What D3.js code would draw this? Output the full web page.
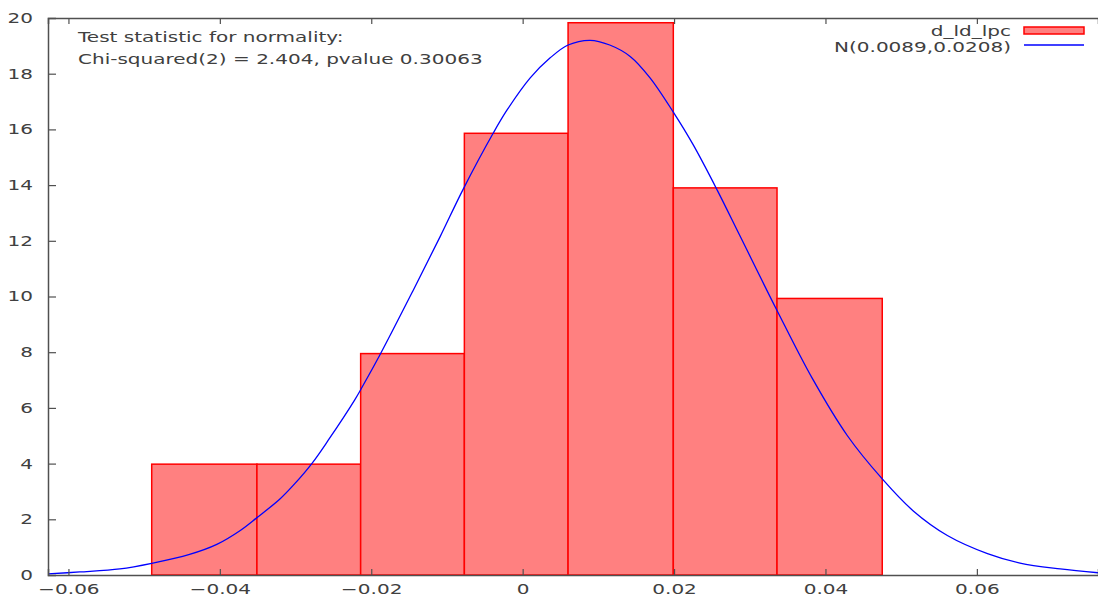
<!DOCTYPE html>
<html>
<head>
<meta charset="utf-8">
<script src="https://cdn.jsdelivr.net/npm/d3@7"></script>
<style>
  body { margin: 0; background: #fff; }
  text { font-family: "DejaVu Sans", sans-serif; fill: #404040; }
</style>
</head>
<body>
<div id="chart"></div>
<script>
// histogram bins (edges) and bar heights
const binEdges = [-0.0490, -0.0351, -0.0214, -0.0077, 0.0060, 0.0199, 0.0336, 0.0475];
const barValues = [3.98, 3.98, 7.95, 15.86, 19.83, 13.90, 9.93];

// normal curve
const curveX = [-0.0627, -0.0585, -0.0532, -0.0490, -0.0440, -0.0404, -0.0373, -0.0351, -0.0321,
  -0.0301, -0.0278, -0.0257, -0.0222, -0.0212, -0.0189, -0.0145, -0.0109, -0.0079, -0.0039,
  -0.0021, 0.0010, 0.0036, 0.0060, 0.0089, 0.0115, 0.0142, 0.0168, 0.0199, 0.0225, 0.0257,
  0.0287, 0.0336, 0.0383, 0.0429, 0.0475, 0.0516, 0.0561, 0.0614, 0.0657, 0.0710, 0.0760];
const curveY = [0.04, 0.11, 0.22, 0.42, 0.74, 1.1, 1.6, 2.06, 2.72,
  3.28, 4.02, 4.83, 6.28, 6.75, 7.88, 10.2, 12.15, 13.83, 15.86,
  16.68, 17.85, 18.56, 19.03, 19.2, 19.03, 18.62, 17.86, 16.62, 15.46, 13.82,
  12.18, 9.5, 7.04, 5.0, 3.45, 2.3, 1.42, 0.77, 0.43, 0.22, 0.08];

const xTicks = [-0.06, -0.04, -0.02, 0, 0.02, 0.04, 0.06];
const yTicks = [0, 2, 4, 6, 8, 10, 12, 14, 16, 18, 20];

const seriesName = "d_ld_lpc";
const curveName = "N(0.0089,0.0208)";
const testLines = ["Test statistic for normality:", "Chi-squared(2) = 2.404, pvalue 0.30063"];

const width = 1098, height = 599;
const margin = { left: 48, top: 18, right: 0, bottom: 24 };
const stretch = 1.43; // the original picture is wider than tall, glyphs included

const svg = d3.select("#chart").append("svg")
  .attr("width", width)
  .attr("height", height);

const x = d3.scaleLinear().domain([-0.0627, 0.0760]).range([margin.left, width - margin.right]);
const y = d3.scaleLinear().domain([0, 20]).range([height - margin.bottom, margin.top]);

svg.append("clipPath").attr("id", "plot")
  .append("rect")
  .attr("x", margin.left).attr("y", margin.top)
  .attr("width", width - margin.left - margin.right)
  .attr("height", height - margin.top - margin.bottom);

// bars
const bars = barValues.map((v, i) => ({ x0: binEdges[i], x1: binEdges[i + 1], v }));
svg.append("g")
  .selectAll("rect")
  .data(bars)
  .join("rect")
  .attr("x", d => x(d.x0))
  .attr("y", d => y(d.v))
  .attr("width", d => x(d.x1) - x(d.x0))
  .attr("height", d => y(0) - y(d.v))
  .attr("fill", "#ff8080")
  .attr("stroke", "#ff0000")
  .attr("stroke-width", 1.5);

// normal curve
const pts = curveX.map((v, i) => [v, curveY[i]]);
svg.append("path")
  .datum(pts)
  .attr("clip-path", "url(#plot)")
  .attr("fill", "none")
  .attr("stroke", "#0000ff")
  .attr("stroke-width", 1.3)
  .attr("d", d3.line().curve(d3.curveCatmullRom).x(d => x(d[0])).y(d => y(d[1])));

// axes (gnuplot style: ticks inward, mirrored on top)
const axisColor = "#505050";
const xAxisBottom = svg.append("g")
  .attr("transform", `translate(0,${y(0)})`)
  .call(d3.axisBottom(x).tickValues(xTicks).tickSize(-6).tickPadding(9).tickFormat(d => d === 0 ? "0" : d3.format(".2f")(d)));
const xAxisTop = svg.append("g")
  .attr("transform", `translate(0,${y(20)})`)
  .call(d3.axisTop(x).tickValues(xTicks).tickSize(-6).tickFormat(""));
const yAxis = svg.append("g")
  .attr("transform", `translate(${x.range()[0]},0)`)
  .call(d3.axisLeft(y).tickValues(yTicks).tickSize(-8).tickPadding(15));

[xAxisBottom, xAxisTop, yAxis].forEach(g => {
  g.select(".domain").attr("stroke", axisColor).attr("stroke-width", 1.5);
  g.selectAll(".tick line").attr("stroke", axisColor).attr("stroke-width", 1.2);
  g.selectAll(".tick text")
    .attr("font-size", 14)
    .attr("fill", "#404040")
    .style("font-family", "DejaVu Sans, sans-serif")
    .attr("x", function() { return (+d3.select(this).attr("x") || 0) / stretch; })
    .attr("transform", `scale(${stretch},1)`);
});
// no tick marks at the corners
yAxis.selectAll(".tick line").filter(d => d === 0 || d === 20).remove();

// helper for stretched text
function label(g, tx, ty, str, anchor) {
  return g.append("text")
    .attr("transform", `translate(${tx},${ty}) scale(${stretch},1)`)
    .attr("text-anchor", anchor || "start")
    .attr("font-size", 14)
    .text(str);
}

// test statistic text
const stats = svg.append("g");
testLines.forEach((s, i) => label(stats, 78, 42 + i * 22, s));

// legend
const legend = svg.append("g");
label(legend, 1011, 36, seriesName, "end");
label(legend, 1011, 52, curveName, "end");
legend.append("rect")
  .attr("x", 1024).attr("y", 27).attr("width", 60).attr("height", 7)
  .attr("fill", "#ff8080").attr("stroke", "#ff0000").attr("stroke-width", 1.5);
legend.append("line")
  .attr("x1", 1024).attr("x2", 1084).attr("y1", 45).attr("y2", 45)
  .attr("stroke", "#0000ff").attr("stroke-width", 1.3);
</script>
</body>
</html>
